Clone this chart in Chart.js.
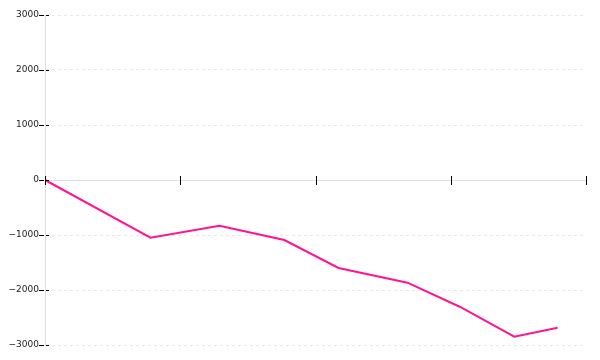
<!DOCTYPE html>
<html>
<head>
<meta charset="utf-8">
<script src="https://cdn.jsdelivr.net/npm/chart.js@4/dist/chart.umd.min.js"></script>
<style>
html,body{margin:0;padding:0;background:#fff;}
#wrap{width:600px;height:360px;position:relative;}
</style>
</head>
<body>
<div id="wrap"><canvas id="c" width="600" height="360"></canvas></div>
<script>
const xValues = [0, 0.78, 1.29, 1.77, 2.17, 2.68, 3.07, 3.47, 3.79];
const yValues = [0, -1049, -831, -1091, -1600, -1867, -2309, -2849, -2685];
const yTicks = [-3000, -2000, -1000, 0, 1000, 2000, 3000];
const xTicks = [0, 1, 2, 3, 4];

const points = xValues.map((x, i) => ({x: x, y: yValues[i]}));

const crossTicks = {
  id: 'crossTicks',
  afterDraw(chart) {
    const ctx = chart.ctx;
    const xs = chart.scales.x, ys = chart.scales.y;
    const x0 = xs.getPixelForValue(0);
    const y0 = ys.getPixelForValue(0);
    ctx.save();
    ctx.strokeStyle = '#000';
    ctx.lineWidth = 1;
    ctx.setLineDash([5, 2]);
    yTicks.forEach(v => {
      const py = Math.round(ys.getPixelForValue(v)) + 0.5;
      ctx.beginPath();
      ctx.moveTo(x0 - 6, py);
      ctx.lineTo(x0 + 4, py);
      ctx.stroke();
    });
    ctx.setLineDash([]);
    xTicks.forEach(v => {
      const px = Math.round(xs.getPixelForValue(v)) + 0.5;
      ctx.beginPath();
      ctx.moveTo(px, y0 - 4);
      ctx.lineTo(px, y0 + 5);
      ctx.stroke();
    });
    ctx.restore();
  }
};

new Chart(document.getElementById('c'), {
  type: 'line',
  data: {
    datasets: [{
      data: points,
      borderColor: '#ff1493',
      borderWidth: 2,
      pointRadius: 0,
      tension: 0,
      fill: false
    }]
  },
  options: {
    responsive: false,
    animation: false,
    layout: {padding: {top: 15, right: 14, bottom: 15, left: 0}},
    plugins: {legend: {display: false}, tooltip: {enabled: false}},
    scales: {
      x: {
        type: 'linear',
        min: 0, max: 4,
        position: {y: 0},
        ticks: {display: false, stepSize: 1},
        grid: {display: false},
        border: {display: true, color: '#dddddd', width: 1}
      },
      y: {
        type: 'linear',
        min: -3000, max: 3000,
        afterFit(scale) { scale.width = 45; },
        ticks: {
          stepSize: 1000,
          padding: 6,
          color: '#222',
          font: {family: 'DejaVu Sans', size: 9},
          callback: (v) => (v < 0 ? '\u2212' + Math.abs(v) : String(v))
        },
        grid: {color: '#e8e8e8', drawTicks: false},
        border: {display: true, color: '#dddddd', width: 1, dash: [3, 3]}
      }
    }
  },
  plugins: [crossTicks]
});
</script>
</body>
</html>
